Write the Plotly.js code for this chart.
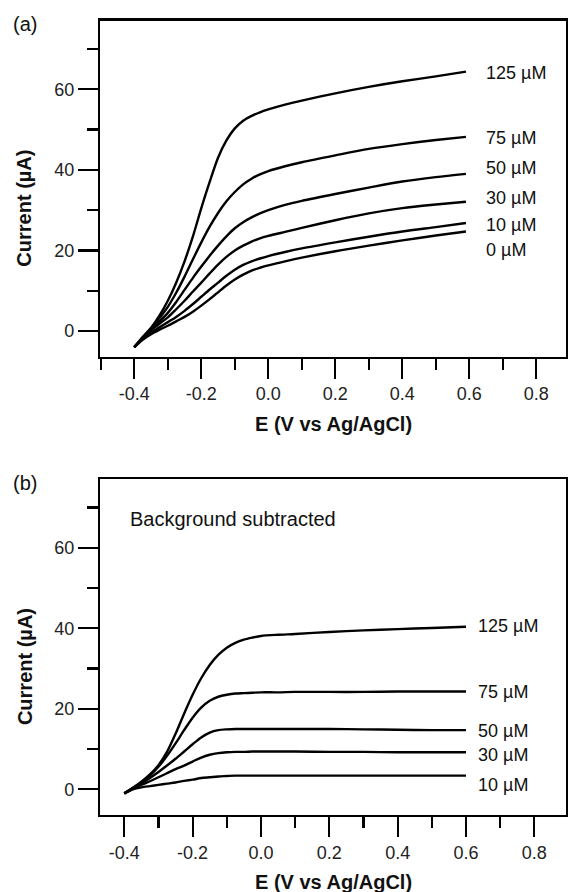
<!DOCTYPE html>
<html>
<head>
<meta charset="utf-8">
<script src="https://cdn.plot.ly/plotly-3.0.1.min.js"></script>
<style>
  html, body { margin: 0; padding: 0; background: #fff; }
  #chart { width: 568px; height: 892px; }
</style>
</head>
<body>
<div id="chart"></div>
<script>
// ---------- data ----------
const potentialA = [-0.40, -0.375, -0.35, -0.325, -0.30, -0.275, -0.25, -0.225, -0.20, -0.175, -0.15, -0.125,
                    -0.10, -0.075, -0.05, -0.025, 0.00, 0.05, 0.10, 0.20, 0.30, 0.40, 0.50, 0.59];
const rawLabels = ["125 µM", "75 µM", "50 µM", "30 µM", "10 µM", "0 µM"];
const raw125 = [-4.0, -1.5, 0.8, 3.8, 7.5, 12.0, 17.3, 23.5, 30.5, 37.0, 43.0, 47.3,
                50.3, 52.2, 53.4, 54.3, 55.0, 56.2, 57.2, 59.0, 60.6, 62.0, 63.2, 64.4];
const raw75  = [-4.0, -1.6, 0.6, 3.2, 6.0, 9.5, 13.5, 17.8, 22.0, 25.9, 29.3, 32.2,
                34.5, 36.4, 37.8, 38.9, 39.7, 40.9, 41.9, 43.6, 45.2, 46.4, 47.4, 48.2];
const raw50  = [-4.0, -1.7, 0.4, 2.4, 4.5, 7.2, 10.2, 13.2, 16.0, 18.7, 21.2, 23.5,
                25.5, 27.0, 28.2, 29.2, 30.0, 31.3, 32.3, 34.0, 35.6, 37.1, 38.2, 39.0];
const raw30  = [-4.0, -1.8, 0.2, 1.8, 3.4, 5.4, 7.5, 9.8, 12.0, 14.3, 16.5, 18.4,
                20.0, 21.2, 22.2, 23.0, 23.6, 24.6, 25.6, 27.5, 29.2, 30.5, 31.4, 32.1];
const raw10  = [-4.0, -2.0, -0.4, 0.9, 2.2, 3.5, 5.0, 6.7, 8.5, 10.3, 12.0, 13.7,
                15.2, 16.4, 17.3, 18.0, 18.6, 19.6, 20.5, 22.0, 23.4, 24.7, 25.8, 26.8];
const raw0   = [-4.0, -2.2, -0.8, 0.3, 1.3, 2.4, 3.5, 4.8, 6.3, 7.9, 9.6, 11.3,
                12.8, 14.0, 15.0, 15.7, 16.3, 17.3, 18.2, 19.8, 21.2, 22.5, 23.7, 24.7];
const rawLabelY = [64.0, 48.0, 40.5, 33.0, 26.3, 20.1];

const potentialB = [-0.40, -0.375, -0.35, -0.325, -0.30, -0.275, -0.25, -0.225, -0.20, -0.175, -0.15, -0.125,
                    -0.10, -0.075, -0.05, -0.025, 0.00, 0.05, 0.10, 0.20, 0.30, 0.40, 0.50, 0.60];
const subLabels = ["125 µM", "75 µM", "50 µM", "30 µM", "10 µM"];
const sub125 = [-1.0, 0.4, 1.9, 3.7, 6.0, 9.3, 13.8, 18.8, 23.5, 27.6, 30.9, 33.4,
                35.2, 36.4, 37.2, 37.7, 38.1, 38.4, 38.6, 39.1, 39.5, 39.8, 40.1, 40.4];
const sub75  = [-1.0, 0.3, 1.7, 3.4, 5.6, 8.3, 11.4, 14.7, 17.8, 20.3, 22.0, 23.0,
                23.5, 23.8, 23.9, 24.0, 24.1, 24.1, 24.2, 24.2, 24.2, 24.3, 24.3, 24.3];
const sub50  = [-1.0, 0.2, 1.4, 2.8, 4.3, 5.9, 7.6, 9.4, 11.2, 12.9, 14.1, 14.7,
                14.9, 15.0, 15.0, 15.0, 15.0, 15.0, 15.0, 15.0, 14.9, 14.8, 14.7, 14.7];
const sub30  = [-1.0, 0.1, 1.1, 2.0, 3.0, 4.0, 5.0, 5.9, 6.9, 7.9, 8.6, 9.0,
                9.2, 9.3, 9.3, 9.4, 9.4, 9.4, 9.4, 9.3, 9.3, 9.2, 9.2, 9.2];
const sub10  = [-1.0, 0.0, 0.5, 0.8, 1.1, 1.4, 1.7, 2.1, 2.4, 2.8, 3.0, 3.2,
                3.3, 3.4, 3.4, 3.4, 3.4, 3.4, 3.4, 3.4, 3.4, 3.4, 3.4, 3.4];
const subLabelY = [40.6, 24.1, 14.6, 8.5, 1.1];

const xTickVals = [-0.4, -0.2, 0.0, 0.2, 0.4, 0.6, 0.8];
const xTickText = ["-0.4", "-0.2", "0.0", "0.2", "0.4", "0.6", "0.8"];
const xMinorVals = [-0.5, -0.3, -0.1, 0.1, 0.3, 0.5, 0.7];
const yTickVals = [0, 20, 40, 60];
const yTickText = ["0", "20", "40", "60"];
const yMinorVals = [10, 30, 50, 70];

// ---------- traces ----------
const FONT = "Arial, 'Liberation Sans', Helvetica, sans-serif";
const lineStyle = {color: "#000", width: 2.4, shape: "spline", smoothing: 0.8};
const rawSeries = [raw125, raw75, raw50, raw30, raw10, raw0];
const subSeries = [sub125, sub75, sub50, sub30, sub10];

const traces = [];
rawSeries.forEach((ys, i) => traces.push({
  x: potentialA, y: ys, xaxis: "x", yaxis: "y", type: "scatter", mode: "lines",
  line: lineStyle, name: rawLabels[i], hoverinfo: "skip"
}));
subSeries.forEach((ys, i) => traces.push({
  x: potentialB, y: ys, xaxis: "x2", yaxis: "y2", type: "scatter", mode: "lines",
  line: lineStyle, name: subLabels[i], hoverinfo: "skip"
}));

// ---------- axes ----------
function xAxis(range, anchor) {
  return {
    range: range, anchor: anchor, domain: [0, 1],
    showline: true, mirror: true, linecolor: "#000", linewidth: 2.2,
    showgrid: false, zeroline: false,
    tickmode: "array", tickvals: xTickVals, ticktext: xTickText,
    ticks: "outside", ticklen: 20, tickwidth: 2.2, tickcolor: "#000",
    minor: {tickmode: "array", tickvals: xMinorVals, ticks: "outside", ticklen: 11, tickwidth: 2.2, tickcolor: "#000", showgrid: false},
    tickfont: {family: FONT, size: 18, color: "#222"}
  };
}
function yAxis(domain, anchor) {
  return {
    range: [-6.38, 77.03], domain: domain, anchor: anchor,
    showline: true, mirror: true, linecolor: "#000", linewidth: 2.2,
    showgrid: false, zeroline: false,
    tickmode: "array", tickvals: yTickVals, ticktext: yTickText,
    ticks: "outside", ticklen: 20, tickwidth: 2.2, tickcolor: "#000",
    minor: {tickmode: "array", tickvals: yMinorVals, ticks: "outside", ticklen: 11, tickwidth: 2.2, tickcolor: "#000", showgrid: false},
    tickfont: {family: FONT, size: 18, color: "#222"}
  };
}

// ---------- annotations ----------
const ann = [];
const txt = (size) => ({family: FONT, size: size, color: "#111"});
rawLabels.forEach((t, i) => ann.push({
  text: t, x: 0.645, y: rawLabelY[i], xref: "x", yref: "y",
  xanchor: "left", yanchor: "middle", showarrow: false, font: txt(18)
}));
subLabels.forEach((t, i) => ann.push({
  text: t, x: 0.629, y: subLabelY[i], xref: "x2", yref: "y2",
  xanchor: "left", yanchor: "middle", showarrow: false, font: txt(18)
}));
ann.push({text: "Background subtracted", x: -0.389, y: 67.2, xref: "x2", yref: "y2",
  xanchor: "left", yanchor: "middle", showarrow: false, font: txt(20)});
// panel letters
ann.push({text: "(a)", x: -0.161, y: 0.995, xref: "paper", yref: "paper",
  xanchor: "center", yanchor: "middle", showarrow: false, font: txt(20)});
ann.push({text: "(b)", x: -0.161, y: 0.4176, xref: "paper", yref: "paper",
  xanchor: "center", yanchor: "middle", showarrow: false, font: txt(20)});
// axis titles
const xTitle = "<b>E (V vs Ag/AgCl)</b>";
const yTitle = "<b>Current (µA)</b>";
ann.push({text: xTitle, x: 0.5, y: 0.4918, xref: "paper", yref: "paper",
  xanchor: "center", yanchor: "middle", showarrow: false, font: txt(20)});
ann.push({text: xTitle, x: 0.5, y: -0.0843, xref: "paper", yref: "paper",
  xanchor: "center", yanchor: "middle", showarrow: false, font: txt(20)});
ann.push({text: yTitle, x: -0.162, y: 30.5, xref: "paper", yref: "y", textangle: -90,
  xanchor: "center", yanchor: "middle", showarrow: false, font: txt(20)});
ann.push({text: yTitle, x: -0.162, y: 30.5, xref: "paper", yref: "y2", textangle: -90,
  xanchor: "center", yanchor: "middle", showarrow: false, font: txt(20)});

const layout = {
  width: 568, height: 892,
  margin: {l: 100, r: 2, t: 20, b: 77},
  paper_bgcolor: "#fff", plot_bgcolor: "#fff",
  showlegend: false,
  font: {family: FONT, color: "#111"},
  xaxis: xAxis([-0.5024, 0.8887], "y"),
  yaxis: yAxis([0.57648, 0.99912], "x"),
  xaxis2: xAxis([-0.4711, 0.8927], "y2"),
  yaxis2: yAxis([0, 0.42226], "x2"),
  annotations: ann
};

Plotly.newPlot("chart", traces, layout, {staticPlot: true, displayModeBar: false});
</script>
</body>
</html>
